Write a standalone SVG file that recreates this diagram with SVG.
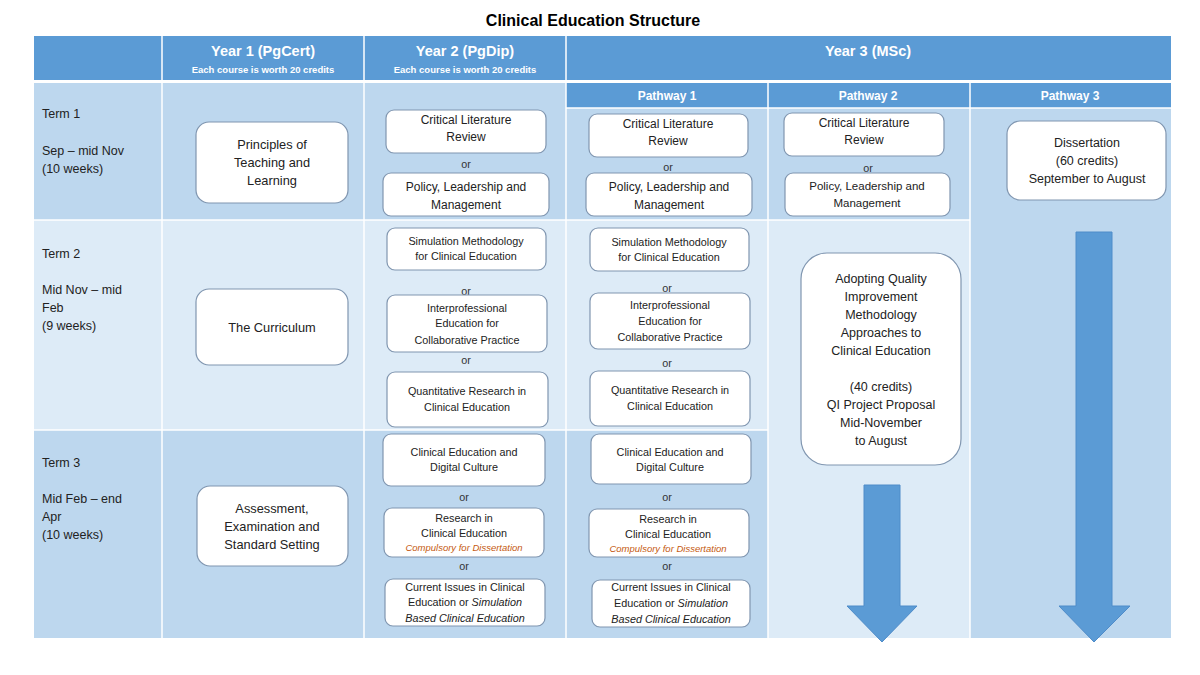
<svg xmlns="http://www.w3.org/2000/svg" width="1200" height="675" viewBox="0 0 1200 675">
<style>
text{font-family:"Liberation Sans",Arial,sans-serif;fill:#222;}
.title{font-size:16px;font-weight:bold;fill:#000;}
.hd{font-size:14.5px;font-weight:bold;fill:#fff;}
.hs{font-size:9.5px;font-weight:bold;fill:#fff;}
.ph{font-size:12px;font-weight:bold;fill:#fff;}
.term{font-size:12.5px;}
.b13{font-size:12.8px;text-anchor:middle;}
.b12{font-size:12px;text-anchor:middle;}
.b125{font-size:12.5px;text-anchor:middle;}
.b11{font-size:10.8px;text-anchor:middle;}
.b115{font-size:11.5px;text-anchor:middle;}
.or{font-size:10.8px;text-anchor:middle;fill:#333;}
.comp{font-size:9.5px;font-style:italic;fill:#C55A11;}
.it{font-style:italic;}
.box{fill:#fff;stroke:#8096B0;stroke-width:1.2;}
.dk{fill:#5B9BD5;}
.md{fill:#BDD7EE;}
.lt{fill:#DDEBF7;}
.div{stroke:#fff;stroke-width:1.5;}
.arrow{fill:#5B9BD5;stroke:#4F8CC9;stroke-width:1;}
</style>

<text class="title" x="593" y="26" text-anchor="middle">Clinical Education Structure</text>

<g id="background">
<rect class="dk" x="34" y="36" width="1137" height="44"/>
<rect class="md" x="34" y="83" width="532" height="137"/>
<rect class="lt" x="34" y="220" width="532" height="210"/>
<rect class="md" x="34" y="430" width="532" height="208"/>
<rect class="dk" x="566" y="83" width="605" height="25"/>
<rect class="md" x="566" y="108" width="202" height="112"/>
<rect class="lt" x="566" y="220" width="202" height="210"/>
<rect class="md" x="566" y="430" width="202" height="208"/>
<rect class="md" x="768" y="108" width="202" height="112"/>
<rect class="lt" x="768" y="220" width="202" height="418"/>
<rect class="md" x="970" y="108" width="201" height="530"/>
<g class="div">
<line x1="162" y1="36" x2="162" y2="638"/>
<line x1="364" y1="36" x2="364" y2="638"/>
<line x1="566" y1="36" x2="566" y2="638"/>
<line x1="768" y1="83" x2="768" y2="638"/>
<line x1="970" y1="83" x2="970" y2="638"/>
<line x1="34" y1="81.5" x2="1171" y2="81.5" stroke-width="3"/>
<line x1="566" y1="108" x2="1171" y2="108"/>
<line x1="34" y1="220" x2="970" y2="220"/>
<line x1="34" y1="430" x2="768" y2="430"/>
</g>
</g>

<g id="headers">
<text class="hd" x="263" y="56" text-anchor="middle">Year 1 (PgCert)</text>
<text class="hs" x="263" y="73" text-anchor="middle">Each course is worth 20 credits</text>
<text class="hd" x="465" y="56" text-anchor="middle">Year 2 (PgDip)</text>
<text class="hs" x="465" y="73" text-anchor="middle">Each course is worth 20 credits</text>
<text class="hd" x="868" y="56" text-anchor="middle">Year 3 (MSc)</text>
<text class="ph" x="667" y="100" text-anchor="middle">Pathway 1</text>
<text class="ph" x="868" y="100" text-anchor="middle">Pathway 2</text>
<text class="ph" x="1070" y="100" text-anchor="middle">Pathway 3</text>
</g>

<g id="terms">
<text class="term" x="42" y="118">Term 1</text>
<text class="term" x="42" y="155">Sep – mid Nov</text>
<text class="term" x="42" y="173">(10 weeks)</text>
<text class="term" x="42" y="258">Term 2</text>
<text class="term" x="42" y="294">Mid Nov – mid</text>
<text class="term" x="42" y="312">Feb</text>
<text class="term" x="42" y="330">(9 weeks)</text>
<text class="term" x="42" y="467">Term 3</text>
<text class="term" x="42" y="503">Mid Feb – end</text>
<text class="term" x="42" y="521">Apr</text>
<text class="term" x="42" y="539">(10 weeks)</text>
</g>

<g id="y1-principles">
<rect class="box" x="196" y="122" width="152" height="81" rx="13"/>
<text class="b13" x="272" y="149">Principles of</text>
<text class="b13" x="272" y="167">Teaching and</text>
<text class="b13" x="272" y="185">Learning</text>
</g>
<g id="y1-curriculum">
<rect class="box" x="196" y="289" width="152" height="76" rx="13"/>
<text class="b13" x="272" y="332">The Curriculum</text>
</g>
<g id="y1-assessment">
<rect class="box" x="197" y="486" width="151" height="80" rx="13"/>
<text class="b13" x="272" y="513">Assessment,</text>
<text class="b13" x="272" y="531">Examination and</text>
<text class="b13" x="272" y="549">Standard Setting</text>
</g>

<g id="y2-clr">
<rect class="box" x="386" y="110" width="160" height="43" rx="8"/>
<text class="b12" x="466" y="124">Critical Literature</text>
<text class="b12" x="466" y="141">Review</text>
</g>
<text class="or" x="466" y="168">or</text>
<g id="y2-plm">
<rect class="box" x="383" y="173" width="166" height="43" rx="8"/>
<text class="b12" x="466" y="191">Policy, Leadership and</text>
<text class="b12" x="466" y="209">Management</text>
</g>
<g id="y2-sim">
<rect class="box" x="387" y="228" width="159" height="42" rx="8"/>
<text class="b11" x="466" y="245">Simulation Methodology</text>
<text class="b11" x="466" y="260">for Clinical Education</text>
</g>
<text class="or" x="466" y="295">or</text>
<g id="y2-ipe">
<rect class="box" x="387" y="295" width="160" height="57" rx="8"/>
<text class="b11" x="467" y="312">Interprofessional</text>
<text class="b11" x="467" y="327">Education for</text>
<text class="b11" x="467" y="344">Collaborative Practice</text>
</g>
<text class="or" x="466" y="364">or</text>
<g id="y2-quant">
<rect class="box" x="387" y="372" width="161" height="55" rx="8"/>
<text class="b11" x="467" y="395">Quantitative Research in</text>
<text class="b11" x="467" y="411">Clinical Education</text>
</g>
<g id="y2-digital">
<rect class="box" x="383" y="434" width="162" height="52" rx="8"/>
<text class="b11" x="464" y="456">Clinical Education and</text>
<text class="b11" x="464" y="471">Digital Culture</text>
</g>
<text class="or" x="464" y="501">or</text>
<g id="y2-research">
<rect class="box" x="384" y="508" width="160" height="49" rx="8"/>
<text class="b11" x="464" y="522">Research in</text>
<text class="b11" x="464" y="537">Clinical Education</text>
<text class="b11 comp" x="464" y="551">Compulsory for Dissertation</text>
</g>
<text class="or" x="464" y="570">or</text>
<g id="y2-current">
<rect class="box" x="385" y="579" width="160" height="47" rx="8"/>
<text class="b11" x="465" y="591">Current Issues in Clinical</text>
<text class="b11" x="465" y="606">Education or <tspan class="it">Simulation</tspan></text>
<text class="b11 it" x="465" y="622">Based Clinical Education</text>
</g>

<g id="p1-clr">
<rect class="box" x="589" y="114" width="159" height="43" rx="8"/>
<text class="b12" x="668" y="128">Critical Literature</text>
<text class="b12" x="668" y="145">Review</text>
</g>
<text class="or" x="668" y="171">or</text>
<g id="p1-plm">
<rect class="box" x="586" y="173" width="166" height="43" rx="8"/>
<text class="b12" x="669" y="191">Policy, Leadership and</text>
<text class="b12" x="669" y="209">Management</text>
</g>
<g id="p1-sim">
<rect class="box" x="590" y="228" width="159" height="43" rx="8"/>
<text class="b11" x="669" y="246">Simulation Methodology</text>
<text class="b11" x="669" y="261">for Clinical Education</text>
</g>
<text class="or" x="667" y="292">or</text>
<g id="p1-ipe">
<rect class="box" x="590" y="293" width="160" height="56" rx="8"/>
<text class="b11" x="670" y="309">Interprofessional</text>
<text class="b11" x="670" y="325">Education for</text>
<text class="b11" x="670" y="341">Collaborative Practice</text>
</g>
<text class="or" x="667" y="367">or</text>
<g id="p1-quant">
<rect class="box" x="590" y="371" width="160" height="55" rx="8"/>
<text class="b11" x="670" y="394">Quantitative Research in</text>
<text class="b11" x="670" y="410">Clinical Education</text>
</g>
<g id="p1-digital">
<rect class="box" x="591" y="434" width="160" height="50" rx="8"/>
<text class="b11" x="670" y="456">Clinical Education and</text>
<text class="b11" x="670" y="471">Digital Culture</text>
</g>
<text class="or" x="667" y="501">or</text>
<g id="p1-research">
<rect class="box" x="589" y="509" width="160" height="48" rx="8"/>
<text class="b11" x="668" y="523">Research in</text>
<text class="b11" x="668" y="538">Clinical Education</text>
<text class="b11 comp" x="668" y="552">Compulsory for Dissertation</text>
</g>
<text class="or" x="667" y="570">or</text>
<g id="p1-current">
<rect class="box" x="592" y="580" width="158" height="47" rx="8"/>
<text class="b11" x="671" y="591">Current Issues in Clinical</text>
<text class="b11" x="671" y="607">Education or <tspan class="it">Simulation</tspan></text>
<text class="b11 it" x="671" y="623">Based Clinical Education</text>
</g>

<g id="p2-clr">
<rect class="box" x="784" y="113" width="160" height="43" rx="8"/>
<text class="b12" x="864" y="127">Critical Literature</text>
<text class="b12" x="864" y="144">Review</text>
</g>
<text class="or" x="868" y="172">or</text>
<g id="p2-plm">
<rect class="box" x="785" y="173" width="165" height="43" rx="8"/>
<text class="b115" x="867" y="190">Policy, Leadership and</text>
<text class="b115" x="867" y="207">Management</text>
</g>
<g id="p2-qi">
<rect class="box" x="801" y="253" width="160" height="212" rx="26"/>
<text class="b125" x="881" y="283">Adopting Quality</text>
<text class="b125" x="881" y="301">Improvement</text>
<text class="b125" x="881" y="319">Methodology</text>
<text class="b125" x="881" y="337">Approaches to</text>
<text class="b125" x="881" y="355">Clinical Education</text>
<text class="b125" x="881" y="391">(40 credits)</text>
<text class="b125" x="881" y="409">QI Project Proposal</text>
<text class="b125" x="881" y="427">Mid-November</text>
<text class="b125" x="881" y="445">to August</text>
</g>

<g id="p3-dissertation">
<rect class="box" x="1007" y="121" width="159" height="79" rx="13"/>
<text class="b125" x="1087" y="147">Dissertation</text>
<text class="b125" x="1087" y="165">(60 credits)</text>
<text class="b125" x="1087" y="183">September to August</text>
</g>

<g id="connectors">
<path class="arrow" d="M864,485 H900 V606 H917 L882,642 L847,606 H864 Z"/>
<path class="arrow" d="M1076,232 H1112 V606 H1130 L1094,642 L1059,606 H1076 Z"/>
</g>
</svg>
